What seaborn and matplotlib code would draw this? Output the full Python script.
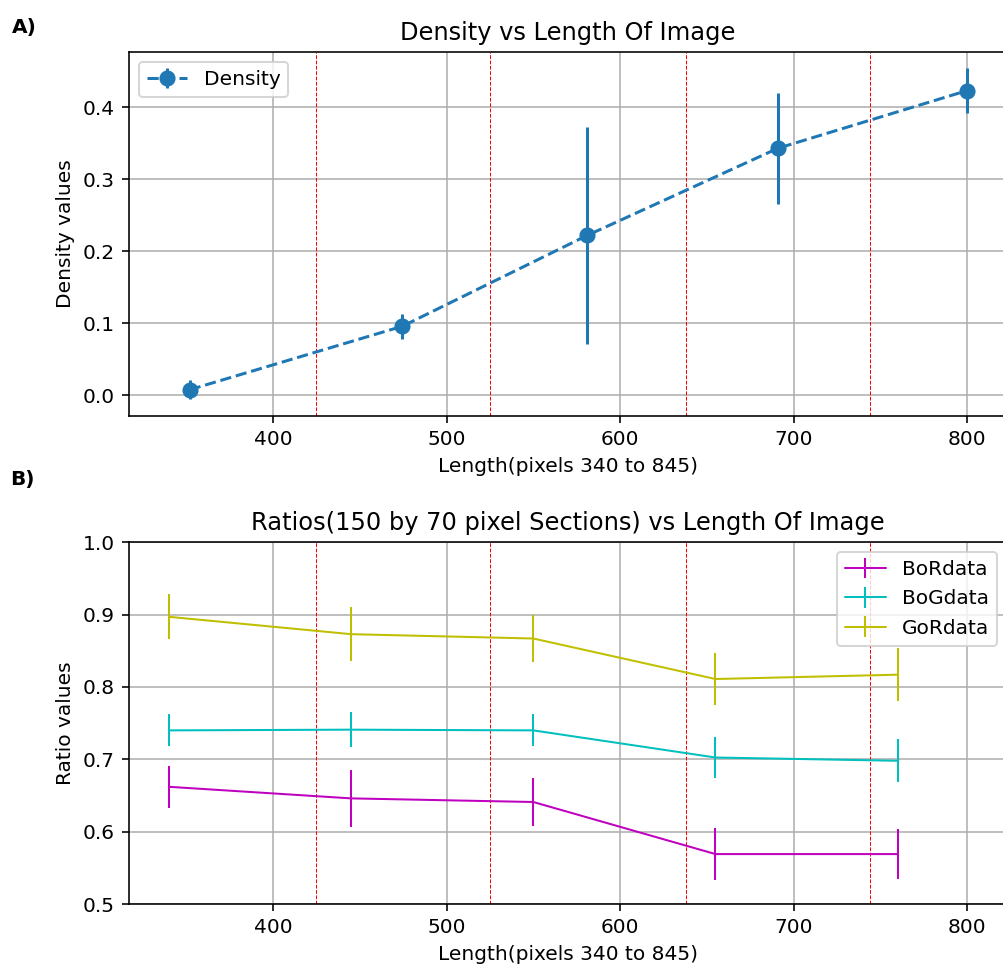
import matplotlib
matplotlib.use("Agg")
import matplotlib.pyplot as plt
import seaborn as sns

# Density measured along the image length
density_x = [352, 474.5, 581, 691, 800]
density = [0.008, 0.096, 0.222, 0.343, 0.423]
density_err = [0.0135, 0.0175, 0.150, 0.077, 0.031]

# Colour ratios of the 150 x 70 pixel sections
ratio_x = [340, 445, 550, 655, 760]
bor = [0.662, 0.646, 0.641, 0.569, 0.569]
bor_err = [0.029, 0.039, 0.033, 0.036, 0.035]
bog = [0.740, 0.741, 0.740, 0.7025, 0.698]
bog_err = [0.022, 0.024, 0.022, 0.028, 0.030]
gor = [0.897, 0.873, 0.867, 0.811, 0.817]
gor_err = [0.031, 0.037, 0.033, 0.036, 0.037]

# Boundaries between the image sections
section_edges = [425, 525, 638, 744]

sns.set_style("ticks", {"axes.grid": True, "grid.color": "#b0b0b0",
                        "axes.edgecolor": "black", "text.color": "black",
                        "axes.labelcolor": "black", "xtick.color": "black",
                        "ytick.color": "black"})
plt.rcParams.update({
    "font.family": ["DejaVu Sans"],
    "font.size": 10,
    "axes.titlesize": 12,
    "axes.labelsize": 10,
    "xtick.labelsize": 10,
    "ytick.labelsize": 10,
    "legend.fontsize": 10,
    "grid.linewidth": 0.8,
    "axes.linewidth": 0.8,
    "xtick.major.size": 3.5,
    "ytick.major.size": 3.5,
    "xtick.major.width": 0.8,
    "ytick.major.width": 0.8,
})

dpi = 145
W, H = 1003, 971
fig = plt.figure(figsize=(W / dpi, H / dpi), dpi=dpi)
ax1 = fig.add_axes([129 / W, 1 - 416 / H, 878 / W, (416 - 51.7) / H])
ax2 = fig.add_axes([129 / W, 1 - 904 / H, 878 / W, (904 - 542.3) / H], sharex=ax1)

blue = sns.color_palette("tab10")[0]

# Panel A
ax1.errorbar(density_x, density, yerr=density_err, fmt="o--", color=blue,
             lw=1.5, elinewidth=1.5, markersize=7, label="Density")
for edge in section_edges:
    ax1.axvline(edge, color="red", linestyle="--", linewidth=0.5)
ax1.set_title("Density vs Length Of Image")
ax1.set_xlabel("Length(pixels 340 to 845)")
ax1.set_ylabel("Density values")
ax1.legend(loc="upper left")
ax1.tick_params(labelbottom=True)

# Panel B
ax2.errorbar(ratio_x, bor, yerr=bor_err, fmt="-", color="m", lw=1, label="BoRdata")
ax2.errorbar(ratio_x, bog, yerr=bog_err, fmt="-", color="c", lw=1, label="BoGdata")
ax2.errorbar(ratio_x, gor, yerr=gor_err, fmt="-", color="y", lw=1, label="GoRdata")
for edge in section_edges:
    ax2.axvline(edge, color="red", linestyle="--", linewidth=0.5)
ax2.set_ylim(0.5, 1.0)
ax2.set_title("Ratios(150 by 70 pixel Sections) vs Length Of Image")
ax2.set_xlabel("Length(pixels 340 to 845)")
ax2.set_ylabel("Ratio values")
ax2.legend(loc="upper right")

for ax in (ax1, ax2):
    ax.set_axisbelow(True)
    ax.grid(True)

fig.text(12 / W, 1 - 27 / H, "A)", fontsize=10, fontweight="bold", va="center", ha="left")
fig.text(10 / W, 1 - 480 / H, "B)", fontsize=10, fontweight="bold", va="center", ha="left")

fig.savefig("out.png", dpi=dpi)
